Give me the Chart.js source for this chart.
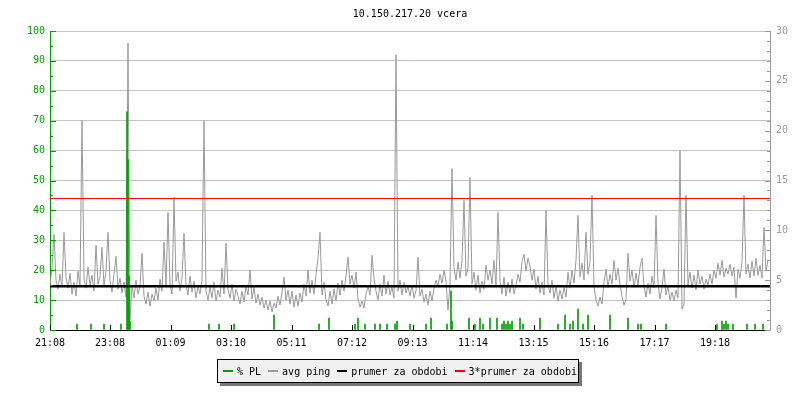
<!DOCTYPE html>
<html>
<head>
<meta charset="utf-8">
<script src="https://cdn.jsdelivr.net/npm/chart.js@4"></script>
<style>
    body { margin: 0; background: #fff; }
    #wrap { position: relative; width: 800px; height: 400px; }
    #legend {
        position: absolute; left: 217px; top: 359px; width: 362px; height: 24px;
        box-sizing: border-box; border: 1px solid #000; background: #f0f0f0;
        box-shadow: 3px 3px 0 #777;
        display: flex; align-items: center; padding-left: 5px;
        font: 10px 'DejaVu Sans Mono', monospace; color: #000; white-space: pre;
    }
    #legend .item { display: flex; align-items: center; margin-right: 7px; }
    #legend .swatch { width: 10px; height: 2px; margin-right: 4px; }
</style>
</head>
<body>
<div id="wrap">
    <canvas id="pingChart" width="800" height="400"></canvas>
    <div id="legend"></div>
</div>
<script>
// ──────────────────────────────────────
// Data (minutes from 21:08, ping in ms, packet loss in %)
// ──────────────────────────────────────

const tickMinutes = [0, 120, 241, 362, 483, 604, 725, 846, 967, 1088, 1209, 1330];
const tickLabels = ['21:08', '23:08', '01:09', '03:10', '05:11', '07:12', '09:13', '11:14', '13:15', '15:16', '17:17', '19:18'];

const pingStepMinutes = 4;
const pingMs = [
    4.6, 6.2, 9.6, 5.0, 4.1, 5.6, 4.3, 9.8, 5.3, 4.2, 5.7, 3.6, 4.8, 3.4, 5.9, 4.4, 21.0, 5.1, 4.2, 6.3, 4.5, 5.5, 3.9, 8.5, 4.6, 5.4, 8.3, 4.4, 6.0, 9.8,
    4.9, 3.8, 5.6, 7.4, 4.1, 5.2, 3.7, 4.8, 3.3, 28.8, 1.0, 4.5, 3.2, 5.0, 3.6, 4.4, 7.7, 3.4, 2.6, 3.8, 2.4, 3.6, 2.9, 4.2, 3.0, 5.1, 3.9, 8.8, 4.4, 11.8,
    4.6, 3.6, 13.3, 4.9, 5.8, 3.9, 5.2, 9.7, 4.5, 3.5, 5.4, 3.8, 4.9, 3.2, 4.4, 3.6, 5.0, 21.0, 3.9, 3.0, 4.3, 3.2, 4.8, 2.9, 4.0, 3.3, 6.2, 3.6, 8.7, 4.1,
    3.2, 4.6, 2.9, 4.1, 3.4, 2.6, 3.9, 2.8, 4.4, 3.5, 6.0, 3.1, 4.3, 2.7, 3.6, 2.5, 3.3, 2.2, 3.0, 2.0, 2.9, 1.8, 2.7, 2.2, 3.4, 2.5, 3.8, 5.3, 3.0, 4.0,
    2.6, 3.9, 2.3, 3.5, 2.4, 3.7, 2.8, 4.6, 3.4, 6.0, 3.7, 5.0, 3.6, 5.5, 7.2, 9.8, 3.5, 4.8, 3.0, 2.4, 3.9, 2.6, 4.1, 2.9, 4.7, 3.5, 5.0, 3.9, 5.4, 7.3,
    4.6, 5.5, 4.2, 5.8, 3.1, 2.3, 2.9, 2.2, 3.6, 4.4, 3.5, 7.5, 5.2, 3.9, 3.0, 4.6, 3.4, 5.5, 3.6, 4.9, 3.5, 4.3, 3.2, 27.6, 3.9, 5.0, 3.5, 4.8, 3.7, 4.4,
    3.4, 4.5, 3.2, 4.0, 7.3, 3.4, 4.1, 2.8, 3.6, 2.5, 3.9, 2.9, 4.2, 5.0, 4.4, 5.6, 4.7, 6.0, 4.9, 2.0, 4.6, 16.2, 6.3, 5.0, 6.8, 5.2, 7.0, 13.0, 5.4, 6.2,
    15.3, 4.6, 5.8, 4.0, 5.5, 3.7, 4.9, 4.1, 6.5, 5.0, 6.0, 4.6, 7.0, 4.4, 11.8, 4.9, 3.6, 5.3, 3.4, 4.8, 3.7, 5.1, 3.6, 4.5, 5.6, 4.8, 6.9, 7.6, 5.9, 7.2,
    6.4, 5.0, 6.1, 4.1, 5.4, 3.7, 4.8, 3.5, 12.0, 4.6, 3.7, 5.0, 3.2, 4.4, 2.9, 4.0, 3.1, 4.3, 3.3, 5.8, 4.2, 6.0, 4.7, 7.0, 11.5, 5.3, 6.7, 5.0, 9.8, 5.6,
    6.9, 13.5, 4.4, 3.0, 2.4, 3.3, 2.6, 4.8, 6.1, 4.3, 5.6, 4.6, 7.0, 5.0, 6.2, 4.5, 3.4, 2.5, 3.1, 7.7, 4.9, 6.0, 4.3, 5.7, 4.5, 6.3, 7.2, 4.4, 3.3, 4.7,
    3.6, 5.4, 4.2, 11.5, 4.7, 3.1, 4.3, 6.1, 3.5, 4.4, 3.0, 3.8, 2.9, 4.0, 3.2, 18.0, 2.1, 2.6, 13.5, 4.5, 5.8, 4.2, 5.5, 4.0, 6.0, 4.6, 5.4, 4.1, 5.1, 4.5,
    5.6, 4.6, 6.0, 5.2, 6.7, 5.5, 7.0, 5.3, 6.2, 5.6, 6.6, 5.4, 6.3, 3.2, 6.1, 5.2, 6.8, 13.5, 5.6, 6.6, 5.2, 6.9, 5.4, 7.2, 5.5, 6.5, 5.2, 10.3, 5.9, 7.0,
];

const plMinutes = [
    54, 82, 108, 142, 154, 156, 158, 160, 318, 338, 368, 448, 538, 558, 610, 616, 630, 650, 660, 674,
    690, 694, 720, 752, 762, 794, 802, 804, 838, 850, 860, 866, 880, 894, 904, 908, 912, 916, 920, 924,
    940, 946, 980, 1016, 1030, 1040, 1046, 1056, 1066, 1076, 1120, 1156, 1176, 1182, 1232, 1334, 1344, 1348,
    1352, 1356, 1366, 1394, 1410, 1426,
];
const plValues = [
    2, 2, 2, 2, 73, 57, 18, 3, 2, 2, 2, 5, 2, 4, 2, 4, 2, 2, 2, 2,
    2, 3, 2, 2, 4, 2, 13, 3, 4, 2, 4, 2, 4, 4, 2, 3, 2, 3, 2, 3,
    4, 2, 4, 2, 5, 2, 3, 7, 2, 5, 5, 4, 2, 2, 2, 2, 3, 2,
    3, 2, 2, 2, 2, 2,
];

const meanPing = [4.4, 4.4];
const tripleMeanPing = [13.2, 13.2];
const periodEnds = [0, 1440];

// ──────────────────────────────────────
// Colors
// ──────────────────────────────────────

const COLORS = {
    green: '#00a000',
    gray: '#999999',
    grid: '#c4c4c4',
    black: '#000000',
    red: '#ff0000',
};

const FONT = { family: "'DejaVu Sans Mono', monospace", size: 10 };

// inward tick marks, like the original graph
const innerTicks = {
    id: 'innerTicks',
    afterDatasetsDraw(chart) {
        const { ctx, chartArea: a, scales } = chart;
        ctx.save();
        ctx.lineWidth = 1;

        ctx.strokeStyle = COLORS.green;
        for (let v = 0; v <= 100; v += 5) {
            const py = Math.round(scales.y.getPixelForValue(v)) + 0.5;
            ctx.beginPath();
            ctx.moveTo(a.left, py);
            ctx.lineTo(a.left + (v % 10 ? 3 : 6), py);
            ctx.stroke();
        }

        ctx.strokeStyle = COLORS.gray;
        for (let v = 0; v <= 30; v += 1) {
            const py = Math.round(scales.y2.getPixelForValue(v)) + 0.5;
            ctx.beginPath();
            ctx.moveTo(a.right, py);
            ctx.lineTo(a.right - (v % 5 ? 3 : 5), py);
            ctx.stroke();
        }

        ctx.strokeStyle = COLORS.black;
        tickMinutes.forEach(m => {
            const px = Math.round(scales.x.getPixelForValue(m)) + 0.5;
            ctx.beginPath();
            ctx.moveTo(px, a.bottom);
            ctx.lineTo(px, a.bottom - 5);
            ctx.stroke();
        });
        ctx.restore();
    }
};

const pingPoints = pingMs.map((v, i) => ({ x: i * pingStepMinutes, y: v }));
const plPoints = plMinutes.map((m, i) => ({ x: m, y: plValues[i] }));

new Chart(document.getElementById('pingChart'), {
    type: 'line',
    data: {
        datasets: [
            {
                label: 'avg ping',
                data: pingPoints,
                yAxisID: 'y2',
                borderColor: COLORS.gray,
                borderWidth: 1,
                pointRadius: 0,
                tension: 0,
                order: 4,
            },
            {
                label: '% PL',
                type: 'bar',
                data: plPoints,
                yAxisID: 'y',
                backgroundColor: COLORS.green,
                barThickness: 1,
                order: 3,
            },
            {
                label: 'prumer za obdobi',
                data: periodEnds.map((m, i) => ({ x: m, y: meanPing[i] })),
                yAxisID: 'y2',
                borderColor: COLORS.black,
                borderWidth: 2.5,
                pointRadius: 0,
                order: 2,
            },
            {
                label: '3*prumer za obdobi',
                data: periodEnds.map((m, i) => ({ x: m, y: tripleMeanPing[i] })),
                yAxisID: 'y2',
                borderColor: COLORS.red,
                borderWidth: 1,
                pointRadius: 0,
                order: 1,
            },
        ]
    },
    options: {
        responsive: false,
        animation: false,
        devicePixelRatio: 1,
        layout: { padding: 0 },
        plugins: {
            legend: { display: false },
            tooltip: { enabled: false },
            title: {
                display: true,
                text: '10.150.217.20 vcera',
                color: '#000',
                font: { ...FONT, weight: 'normal' },
                fullSize: false,
                padding: { top: 8, bottom: 11 },
            },
        },
        scales: {
            x: {
                type: 'linear',
                min: 0,
                max: 1440,
                offset: false,
                afterBuildTicks: scale => { scale.ticks = tickMinutes.map(v => ({ value: v })); },
                afterFit: scale => { scale.height = 70; },
                grid: { drawOnChartArea: false, drawTicks: false },
                border: { color: COLORS.black, width: 1 },
                ticks: {
                    autoSkip: false,
                    maxRotation: 0,
                    padding: 7,
                    color: '#000',
                    font: FONT,
                    callback: value => tickLabels[tickMinutes.indexOf(value)],
                },
            },
            y: {
                position: 'left',
                min: 0,
                max: 100,
                afterFit: scale => { scale.width = 50; },
                grid: {
                    color: ctx => ctx.tick.value === 0 ? 'transparent' : COLORS.grid,
                    drawTicks: false,
                },
                border: { color: COLORS.green },
                ticks: { stepSize: 10, padding: 5, color: COLORS.green, font: FONT },
            },
            y2: {
                position: 'right',
                min: 0,
                max: 30,
                afterFit: scale => { scale.width = 30; },
                grid: { drawOnChartArea: false, drawTicks: false },
                border: { color: COLORS.gray },
                ticks: { stepSize: 5, padding: 6, color: COLORS.gray, font: FONT },
            },
        }
    },
    plugins: [innerTicks],
});

// ──────────────────────────────────────
// Legend (boxed, with shadow)
// ──────────────────────────────────────

const legendItems = [
    { text: '% PL', color: COLORS.green },
    { text: 'avg ping', color: COLORS.gray },
    { text: 'prumer za obdobi', color: COLORS.black },
    { text: '3*prumer za obdobi', color: COLORS.red },
];
document.getElementById('legend').innerHTML = legendItems.map(it =>
    `<span class="item"><span class="swatch" style="background:${it.color}"></span>${it.text}</span>`
).join('');
</script>
</body>
</html>
